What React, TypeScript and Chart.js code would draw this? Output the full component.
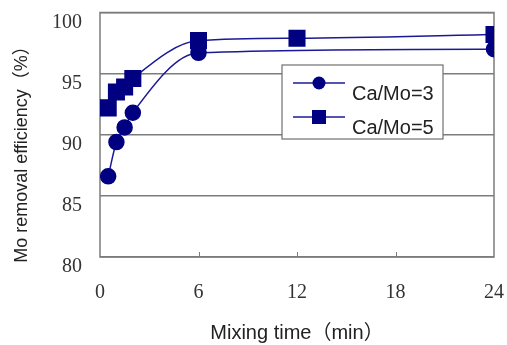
import React, { useEffect, useRef } from 'react';
import { Chart, registerables } from 'chart.js';

Chart.register(...registerables);

const seriesNames = ['Ca/Mo=3', 'Ca/Mo=5'];
const timeCaMo3 = [0.5, 1, 1.5, 2, 6, 24];
const effCaMo3 = [86.6, 89.4, 90.6, 91.8, 96.7, 97.0];
const timeCaMo5 = [0.5, 1, 1.5, 2, 6, 12, 24];
const effCaMo5 = [92.2, 93.5, 93.9, 94.6, 97.7, 97.9, 98.2];
const xTicks = [0, 6, 12, 18, 24];
const yTicks = [80, 85, 90, 95, 100];
const xTitle = 'Mixing time（min）';
const yTitle = 'Mo removal efficiency（%）';

const MARK = '#000080';
const LINE = '#1a1a96';
const GRID = '#7c7c7c';
const SANS = '"Liberation Sans", "Noto Sans CJK JP", sans-serif';
const SERIF = '"Liberation Serif", "DejaVu Serif", serif';

const decorPlugin = {
  id: 'decor',
  beforeDatasetsDraw(chart: any) {
    const { ctx, chartArea: a, scales } = chart;
    ctx.save();
    ctx.strokeStyle = GRID;
    ctx.lineWidth = 1.5;
    ctx.strokeRect(a.left, a.top, a.right - a.left, a.bottom - a.top);
    ctx.lineWidth = 1;
    for (const t of xTicks.slice(1, -1)) {
      const x = Math.round(scales.x.getPixelForValue(t)) + 0.5;
      ctx.beginPath();
      ctx.moveTo(x, a.bottom);
      ctx.lineTo(x, a.bottom - 5);
      ctx.stroke();
    }
    ctx.restore();
  },
  afterDraw(chart: any) {
    const { ctx, chartArea: a } = chart;
    ctx.save();
    ctx.fillStyle = '#222';
    ctx.textAlign = 'center';
    ctx.textBaseline = 'middle';
    ctx.font = `20px ${SANS}`;
    ctx.fillText(xTitle, (a.left + a.right) / 2, 333);
    ctx.font = `18px ${SANS}`;
    ctx.save();
    ctx.translate(22, 150);
    ctx.rotate(-Math.PI / 2);
    ctx.fillText(yTitle, 0, 0);
    ctx.restore();

    // legend
    const lx = 282, ly = 65, lw = 161, lh = 74;
    ctx.fillStyle = '#fff';
    ctx.fillRect(lx, ly, lw, lh);
    ctx.strokeStyle = '#707070';
    ctx.lineWidth = 1.2;
    ctx.strokeRect(lx, ly, lw, lh);
    chart.data.datasets.forEach((ds: any, i: number) => {
      const y = 83 + i * 34;
      ctx.strokeStyle = ds.borderColor;
      ctx.lineWidth = 1.5;
      ctx.beginPath();
      ctx.moveTo(293, y);
      ctx.lineTo(345, y);
      ctx.stroke();
      ctx.fillStyle = ds.pointBackgroundColor;
      if (ds.pointStyle === 'rect') {
        ctx.fillRect(319 - 7, y - 7, 14, 14);
      } else {
        ctx.beginPath();
        ctx.arc(319, y, 6.5, 0, Math.PI * 2);
        ctx.fill();
      }
      ctx.fillStyle = '#222';
      ctx.font = `20px ${SANS}`;
      ctx.textAlign = 'left';
      ctx.textBaseline = 'middle';
      ctx.fillText(ds.label, 352, y + 11);
    });
    ctx.restore();
  },
};

export default function App() {
  const ref = useRef<HTMLCanvasElement>(null);
  useEffect(() => {
    if (!ref.current) return;
    const chart = new Chart(ref.current, {
      type: 'line',
      data: {
        datasets: [
          {
            label: seriesNames[0],
            data: timeCaMo3.map((x, i) => ({ x, y: effCaMo3[i] })),
            borderColor: LINE,
            borderWidth: 1.5,
            pointBackgroundColor: MARK,
            pointBorderColor: MARK,
            pointStyle: 'circle',
            pointRadius: 7.5,
            cubicInterpolationMode: 'monotone',
            fill: false,
          },
          {
            label: seriesNames[1],
            data: timeCaMo5.map((x, i) => ({ x, y: effCaMo5[i] })),
            borderColor: LINE,
            borderWidth: 1.5,
            pointBackgroundColor: MARK,
            pointBorderColor: MARK,
            pointStyle: 'rect',
            pointRadius: 11,
            cubicInterpolationMode: 'monotone',
            fill: false,
          },
        ],
      },
      options: {
        animation: false,
        responsive: false,
        layout: { padding: { top: 12, right: 13, left: 0, bottom: 0 } },
        plugins: { legend: { display: false }, tooltip: { enabled: false } },
        scales: {
          x: {
            type: 'linear',
            min: 0,
            max: 24,
            afterBuildTicks: (s: any) => {
              s.ticks = xTicks.map((v) => ({ value: v }));
            },
            afterFit: (s: any) => {
              s.height = 88;
              s.paddingLeft = 0;
              s.paddingRight = 0;
            },
            grid: { display: false, drawTicks: false },
            border: { display: false },
            ticks: { padding: 24, color: '#333', font: { family: SERIF, size: 20 } },
            title: { display: false },
          },
          y: {
            type: 'linear',
            min: 80,
            max: 100,
            afterBuildTicks: (s: any) => {
              s.ticks = yTicks.map((v) => ({ value: v }));
            },
            afterFit: (s: any) => {
              s.width = 100;
              s.paddingTop = 0;
              s.paddingBottom = 0;
            },
            grid: { color: GRID, lineWidth: 1.5, drawTicks: false },
            border: { display: false },
            ticks: { padding: 18, labelOffset: 10, color: '#333', font: { family: SERIF, size: 20 } },
            title: { display: false },
          },
        },
      },
      plugins: [decorPlugin],
    } as any);
    return () => chart.destroy();
  }, []);
  return (
    <div style={{ position: 'absolute', left: 0, top: 0, width: 507, height: 345, background: '#fff' }}>
      <canvas ref={ref} width={507} height={345} style={{ display: 'block' }} />
    </div>
  );
}
